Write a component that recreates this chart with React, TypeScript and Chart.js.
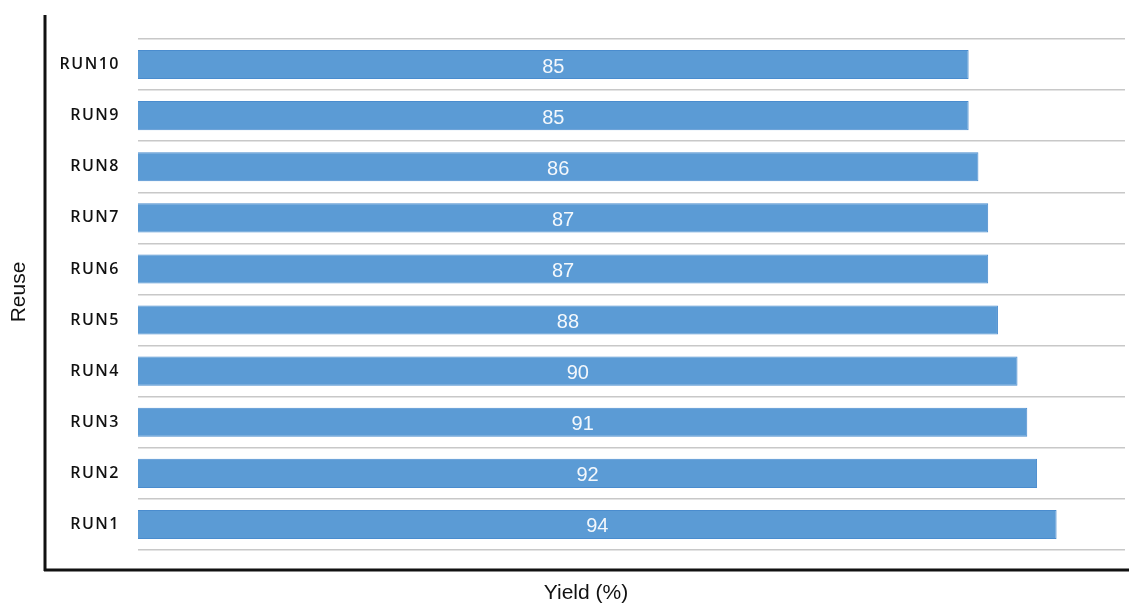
import React, { useEffect, useRef } from "react";
import { Chart, registerables } from "chart.js";

Chart.register(...registerables);

const categories = ["RUN1", "RUN2", "RUN3", "RUN4", "RUN5", "RUN6", "RUN7", "RUN8", "RUN9", "RUN10"];
const yields = [94, 92, 91, 90, 88, 87, 87, 86, 85, 85];
const xTitle = "Yield (%)";
const yTitle = "Reuse";

const decorPlugin = {
  id: "decor",
  afterDatasetsDraw(chart: any) {
    const ctx = chart.ctx;
    const meta = chart.getDatasetMeta(0);
    ctx.save();
    ctx.fillStyle = "#f4f8fc";
    ctx.font = '20px "Liberation Sans", Arial, sans-serif';
    ctx.textAlign = "center";
    ctx.textBaseline = "middle";
    meta.data.forEach((bar: any, i: number) => {
      const cx = (bar.base + bar.x) / 2;
      ctx.fillText(String(yields[i]), cx, bar.y + 2.5);
    });
    ctx.restore();
  },
  afterDraw(chart: any) {
    const ctx = chart.ctx;
    const yScale = chart.scales.y;
    ctx.save();
    // frame lines
    ctx.strokeStyle = "#111";
    ctx.lineWidth = 3;
    ctx.beginPath();
    ctx.moveTo(45, 15);
    ctx.lineTo(45, 571);
    ctx.moveTo(44, 570);
    ctx.lineTo(1129, 570);
    ctx.stroke();
    // y labels
    ctx.fillStyle = "#111";
    ctx.font = '600 16px "Open Sans", sans-serif';
    (ctx as any).letterSpacing = "1.5px";
    ctx.textAlign = "right";
    ctx.textBaseline = "middle";
    categories.forEach((c, i) => {
      const y = yScale.getPixelForTick(i);
      ctx.fillText(c, 120, y);
    });
    (ctx as any).letterSpacing = "0px";
    // titles
    ctx.font = '21px "Liberation Sans", Arial, sans-serif';
    ctx.textAlign = "center";
    ctx.textBaseline = "middle";
    ctx.fillText(xTitle, 586, 593);
    ctx.translate(19, 292);
    ctx.rotate(-Math.PI / 2);
    ctx.fillText(yTitle, 0, 0);
    ctx.restore();
  },
};

export default function App() {
  const ref = useRef<HTMLCanvasElement | null>(null);
  useEffect(() => {
    if (!ref.current) return;
    const chart = new Chart(ref.current, {
      type: "bar",
      data: {
        labels: categories,
        datasets: [
          {
            data: yields,
            backgroundColor: "#5b9bd5",
            borderColor: "#4a8cce",
            borderWidth: 1,
            categoryPercentage: 1,
            barPercentage: 0.57,
          },
        ],
      },
      options: {
        indexAxis: "y",
        animation: false,
        responsive: false,
        maintainAspectRatio: false,
        layout: { padding: { left: 0, top: 39, right: 4, bottom: 54 } },
        plugins: { legend: { display: false }, tooltip: { enabled: false } },
        scales: {
          x: { display: false, min: 0, max: 101 },
          y: {
            reverse: true,
            border: { display: false },
            grid: { color: "#c8c8c8", lineWidth: 1.5, drawTicks: false, offset: true },
            ticks: { display: false },
            afterFit: (s: any) => {
              s.width = 138;
            },
          },
        },
      },
      plugins: [decorPlugin],
    });
    return () => chart.destroy();
  }, []);
  return (
    <div style={{ position: "fixed", left: 0, top: 0, width: 1129, height: 604, background: "#fff" }}>
      <canvas ref={ref} width={1129} height={604} style={{ width: 1129, height: 604, display: "block" }} />
    </div>
  );
}
